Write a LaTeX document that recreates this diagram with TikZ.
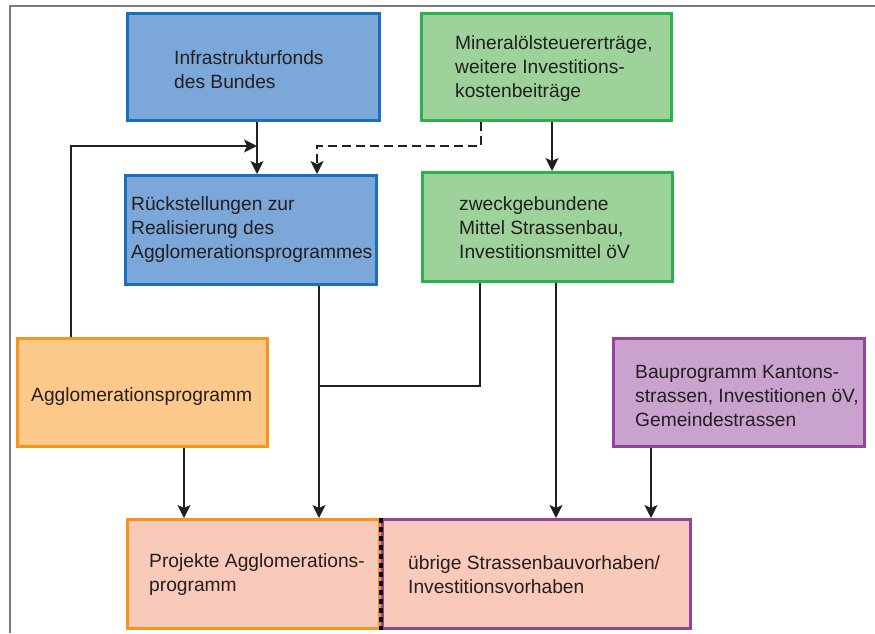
\documentclass[tikz,border=0pt]{standalone}
\usepackage{fontspec}
\setmainfont{Liberation Sans}
\usetikzlibrary{arrows.meta}
\definecolor{bluefill}{HTML}{7BA7D9}
\definecolor{blueline}{HTML}{1A70BA}
\definecolor{greenfill}{HTML}{9DD29B}
\definecolor{greenline}{HTML}{2BB24C}
\definecolor{orangefill}{HTML}{FDC98B}
\definecolor{orangeline}{HTML}{F7941D}
\definecolor{purplefill}{HTML}{C9A3CD}
\definecolor{purpleline}{HTML}{92439B}
\definecolor{salmonfill}{HTML}{F9C9B9}
\definecolor{txtcol}{HTML}{231F20}
\definecolor{framecol}{HTML}{7A7A7A}
\tikzset{
  boxbase/.style={rectangle, line width=3pt, inner sep=0pt},
  bluebox/.style={boxbase, draw=blueline, fill=bluefill},
  greenbox/.style={boxbase, draw=greenline, fill=greenfill},
  orangebox/.style={boxbase, draw=orangeline, fill=orangefill},
  purplebox/.style={boxbase, draw=purpleline, fill=purplefill},
  projbox/.style={boxbase, draw=orangeline, fill=salmonfill},
  uebrbox/.style={boxbase, draw=purpleline, fill=salmonfill},
  txt/.style={anchor=west, inner sep=0pt, align=left, text=txtcol,
    font=\fontsize{19.2}{24}\selectfont},
  conn/.style={draw=txtcol, line width=1.8pt},
  arr/.style={conn, -{Stealth[length=13pt,width=13pt,inset=3pt]}},
  dasharr/.style={arr, dash pattern=on 9pt off 5pt},
}
\begin{document}
\begin{tikzpicture}[x=1pt,y=-1pt]
\useasboundingbox (0,0) rectangle (875,633);
% frame
\draw[framecol, line width=1.2pt] (10,633) -- (10,6) -- (875,6);

% boxes
\node[bluebox, minimum width=252pt, minimum height=107pt] (infra) at (253.5,67) {};
\node[greenbox, minimum width=250pt, minimum height=107pt] (mineral) at (546.5,67) {};
\node[bluebox, minimum width=251pt, minimum height=109pt] (rueck) at (251,230) {};
\node[greenbox, minimum width=250pt, minimum height=109pt] (zweck) at (547.5,227) {};
\node[orangebox, minimum width=250pt, minimum height=108pt] (agglo) at (142.5,392.5) {};
\node[purplebox, minimum width=251pt, minimum height=108pt] (bau) at (739,392.5) {};
\node[projbox, minimum width=252pt, minimum height=109pt] (proj) at (253.5,574) {};
\node[uebrbox, minimum width=308pt, minimum height=109pt] (uebr) at (536.5,574) {};
\draw[black, line width=3.6pt, dash pattern=on 5pt off 4pt] (proj.north east) -- (proj.south east);

% texts
\node[txt] (tinfra) at (174,70) {Infrastrukturfonds\\des Bundes};
\node[txt] (tmineral) at (455,69) {Mineralölsteuererträge,\\weitere Investitions-\\kostenbeiträge};
\node[txt] (trueck) at (131,230) {Rückstellungen zur\\Realisierung des\\Agglomerationsprogrammes};
\node[txt] (tzweck) at (459,228) {zweckgebundene\\Mittel Strassenbau,\\Investitionsmittel öV};
\node[txt] (tagglo) at (31,397) {Agglomerationsprogramm};
\node[txt] (tbau) at (635,396) {Bauprogramm Kantons-\\strassen, Investitionen öV,\\Gemeindestrassen};
\node[txt] (tproj) at (149,575) {Projekte Agglomerations-\\programm};
\node[txt] (tuebr) at (408,575) {übrige Strassenbauvorhaben/\\Investitionsvorhaben};

% helper coordinates
\coordinate (c71) at (71,146);
\coordinate (c257) at (257,146);
\coordinate (c317) at (317,146);
\coordinate (c481) at (481,146);
\coordinate (c319) at (319,386);
\coordinate (c480) at (480,386);
\coordinate (c552) at (552,0);
\coordinate (c556) at (556,0);
\coordinate (c184) at (184,0);
\coordinate (c651) at (651,0);

% connectors
\draw[arr] (infra.south -| c257) -- (rueck.north -| c257);
\draw[arr] (agglo.north -| c71) -- (c71) -- (c257);
\draw[dasharr] (mineral.south -| c481) -- (c481) -- (c317) -- (rueck.north -| c317);
\draw[arr] (mineral.south -| c552) -- (zweck.north -| c552);
\draw[arr] (rueck.south -| c319) -- (proj.north -| c319);
\draw[conn] (zweck.south -| c480) -- (c480) -- (c319);
\draw[arr] (zweck.south -| c556) -- (uebr.north -| c556);
\draw[arr] (agglo.south -| c184) -- (proj.north -| c184);
\draw[arr] (bau.south -| c651) -- (uebr.north -| c651);
\end{tikzpicture}
\end{document}
